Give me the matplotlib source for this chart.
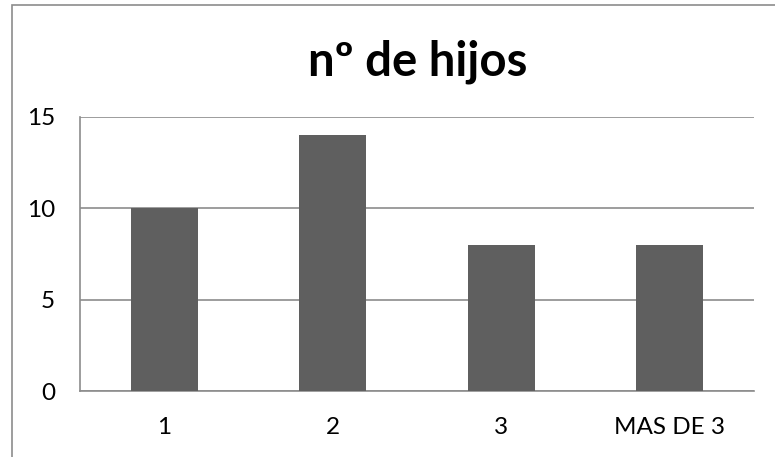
import matplotlib
matplotlib.use("Agg")
import matplotlib.pyplot as plt
from matplotlib.patches import Rectangle

# Data
categorias = ["1", "2", "3", "MAS DE 3"]
valores = [10, 14, 8, 8]
ticks_y = [0, 5, 10, 15]

plt.rcParams["font.family"] = ["Lato", "DejaVu Sans"]

fig = plt.figure(figsize=(7.75, 4.57), dpi=100)
ax = fig.add_axes([80 / 775, 66 / 457, 674 / 775, 274 / 457])

# chart border (cut off at right/bottom like the reference)
fig.patches.append(Rectangle((12 / 775, -0.05), 1.0, (452 / 457) + 0.05,
                             transform=fig.transFigure, fill=False,
                             edgecolor="#8c8c8c", linewidth=1.2))

x = range(len(categorias))
ax.bar(x, valores, width=0.4, color="#5f5f5f", zorder=3)

ax.set_xlim(-0.5, len(categorias) - 0.5)
ax.set_ylim(0, 15)
ax.set_yticks(ticks_y)
ax.set_xticks(list(x))
ax.set_xticklabels(categorias)
ax.yaxis.grid(True, color="#8c8c8c", linewidth=1.2, zorder=0)
ax.tick_params(length=0, labelsize=17.5, colors="black")
ax.tick_params(axis="x", pad=19)
ax.tick_params(axis="y", pad=18)

for side in ["top", "right"]:
    ax.spines[side].set_visible(False)
for side in ["left", "bottom"]:
    ax.spines[side].set_color("#8c8c8c")
    ax.spines[side].set_linewidth(1.2)

fig.text(418 / 775, 1 - 62 / 457, "nº de hijos", ha="center", va="center",
         fontsize=34, fontweight="bold")

fig.savefig("out.png", dpi=100)
